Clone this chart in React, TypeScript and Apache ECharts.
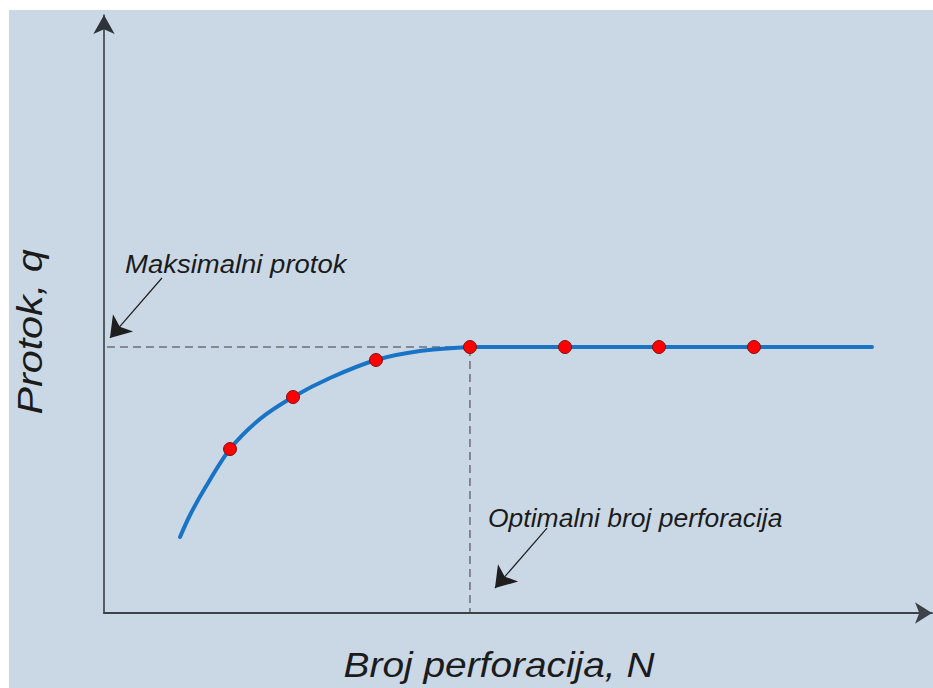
import React, { useEffect, useRef } from "react";
import * as echarts from "echarts";

// Rising part of the curve (Broj perforacija N vs Protok q) (units 0..100)
const curveN = [9.18, 10.39, 12.2, 15.22, 18.84, 22.83, 27.29, 32.85, 38.16, 44.2];
const curveQ = [12.71, 16.39, 20.9, 27.42, 32.44, 36.12, 39.3, 42.31, 43.81, 44.48];

// Flat plateau of the curve
const plateauN = [44.2, 92.75];
const plateauQ = [44.48, 44.48];

// Red measurement points
const pointN = [15.22, 22.83, 32.85, 44.2, 55.68, 67.03, 78.5];
const pointQ = [27.42, 36.12, 42.31, 44.48, 44.48, 44.48, 44.48];

// Guide lines (maximum flow, optimal number)
const maxQ = 44.48;
const optN = 44.2;

// Annotation arrows [fromN, fromQ, toN, toQ]
const arrowMax = [7.0, 56.02, 0.72, 45.99];
const arrowOpt = [53.5, 14.21, 47.22, 4.18];

const xTitle = "Broj perforacija, N";
const yTitle = "Protok, q";
const labelMax = "Maksimalni protok";
const labelOpt = "Optimalni broj perforacija";

export default function App() {
  const ref = useRef<HTMLDivElement>(null);
  useEffect(() => {
    document.body.style.margin = "0";
    const chart = echarts.init(ref.current!, null, { renderer: "svg" });
    const font = "'Liberation Sans', Arial, sans-serif";
    const textColor = "#1b1b1b";
    const blue = "#1a74c6";
    chart.setOption({
      animation: false,
      backgroundColor: "#ffffff",
      grid: { left: 104, top: 15, right: 1, bottom: 75 },
      xAxis: {
        type: "value",
        min: 0,
        max: 100,
        axisLine: {
          show: true,
          symbol: ["none", "arrow"],
          symbolSize: [16, 17],
          lineStyle: { color: "#3d424a", width: 2 },
        },
        axisTick: { show: false },
        axisLabel: { show: false },
        splitLine: { show: false },
      },
      yAxis: {
        type: "value",
        min: 0,
        max: 100,
        axisLine: {
          show: true,
          symbol: ["none", "arrow"],
          symbolSize: [16, 19],
          lineStyle: { color: "#2e333a", width: 1.5 },
        },
        axisTick: { show: false },
        axisLabel: { show: false },
        splitLine: { show: false },
      },
      graphic: [
        {
          type: "rect",
          z: -10,
          silent: true,
          shape: { x: 9, y: 10, width: 924, height: 678 },
          style: { fill: "#cad8e6" },
        },
        {
          type: "text",
          x: 125,
          y: 264.6,
          scaleX: 1.1,
          style: {
            text: labelMax,
            font: `italic 25px ${font}`,
            fill: textColor,
            textAlign: "left",
            textVerticalAlign: "middle",
          },
        },
        {
          type: "text",
          x: 488,
          y: 518,
          scaleX: 1.06,
          style: {
            text: labelOpt,
            font: `italic 25px ${font}`,
            fill: textColor,
            textAlign: "left",
            textVerticalAlign: "middle",
          },
        },
        {
          type: "text",
          x: 499,
          y: 665,
          scaleX: 1.11,
          style: {
            text: xTitle,
            font: `italic 35px ${font}`,
            fill: textColor,
            textAlign: "center",
            textVerticalAlign: "middle",
          },
        },
        {
          type: "text",
          x: 30,
          y: 332,
          rotation: Math.PI / 2,
          scaleX: 1.18,
          style: {
            text: yTitle,
            font: `italic 35px ${font}`,
            fill: textColor,
            textAlign: "center",
            textVerticalAlign: "middle",
          },
        },
      ],
      series: [
        {
          type: "line",
          data: [
            [0.36, maxQ],
            [optN, maxQ],
            [optN, 0],
          ],
          symbol: "none",
          silent: true,
          z: 2,
          lineStyle: { color: "#3a3a3a", width: 1, type: [8, 5] },
          markLine: {
            silent: true,
            symbol: ["none", "arrow"],
            symbolSize: 20,
            label: { show: false },
            lineStyle: { color: "#1e1e1e", width: 1.2, type: "solid" },
            data: [
              [
                { coord: [arrowMax[0], arrowMax[1]] },
                { coord: [arrowMax[2], arrowMax[3]] },
              ],
              [
                { coord: [arrowOpt[0], arrowOpt[1]] },
                { coord: [arrowOpt[2], arrowOpt[3]] },
              ],
            ],
          },
        },
        {
          type: "line",
          data: curveN.map((n, i) => [n, curveQ[i]]),
          smooth: 0.3,
          symbol: "none",
          silent: true,
          z: 3,
          lineStyle: { color: blue, width: 4, cap: "round" },
        },
        {
          type: "line",
          data: plateauN.map((n, i) => [n, plateauQ[i]]),
          symbol: "none",
          silent: true,
          z: 3,
          lineStyle: { color: blue, width: 4, cap: "round" },
        },
        {
          type: "scatter",
          data: pointN.map((n, i) => [n, pointQ[i]]),
          symbolSize: 13,
          silent: true,
          z: 5,
          itemStyle: { color: "#ff0000", borderColor: "#7a1414", borderWidth: 1, opacity: 1 },
        },
      ],
    });
    return () => chart.dispose();
  }, []);
  return (
    <div
      ref={ref}
      style={{ position: "fixed", left: 0, top: 0, width: 933, height: 688 }}
    />
  );
}
